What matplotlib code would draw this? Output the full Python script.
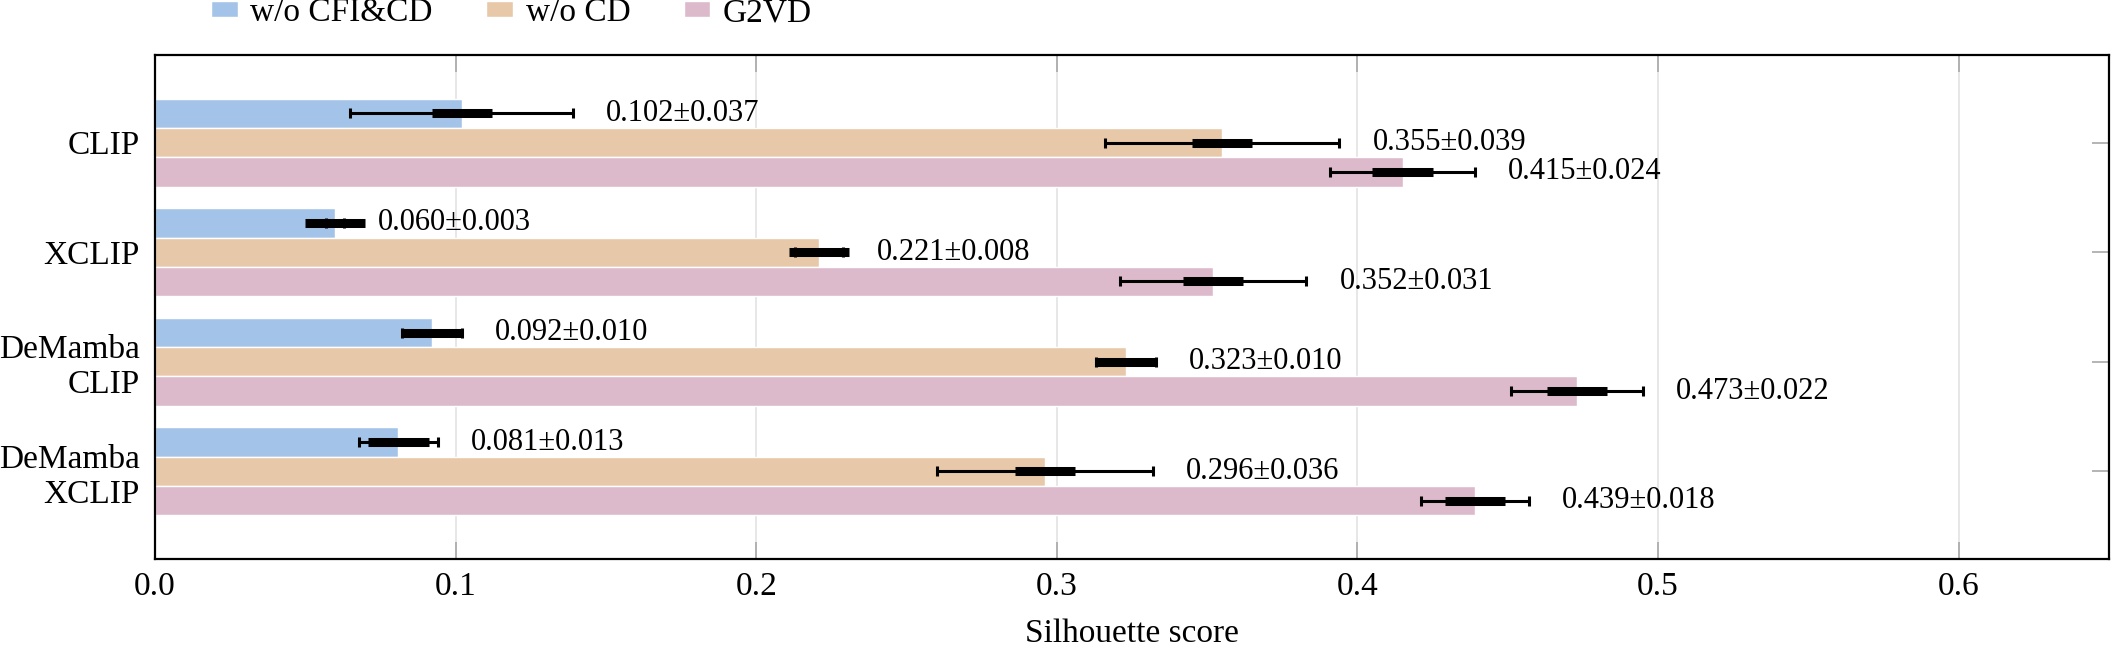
import matplotlib
matplotlib.use("Agg")
import matplotlib.pyplot as plt
import numpy as np

plt.rcParams['font.family'] = ['Liberation Serif', 'DejaVu Serif']
plt.rcParams['mathtext.fontset'] = 'stix'

# ---- data ----
categories = ["CLIP", "XCLIP", "DeMamba\nCLIP", "DeMamba\nXCLIP"]
series_names = ["w/o CFI&CD", "w/o CD", "G2VD"]
blue_mean = [0.102, 0.060, 0.092, 0.081]
blue_std = [0.037, 0.003, 0.010, 0.013]
orange_mean = [0.355, 0.221, 0.323, 0.296]
orange_std = [0.039, 0.008, 0.010, 0.036]
pink_mean = [0.415, 0.352, 0.473, 0.439]
pink_std = [0.024, 0.031, 0.022, 0.018]
xticks = [0.0, 0.1, 0.2, 0.3, 0.4, 0.5, 0.6]
xtick_labels = ["0.0", "0.1", "0.2", "0.3", "0.4", "0.5", "0.6"]

colors = ["#A3C4E8", "#E7C8A8", "#DDBACB"]
THICK_HALF = 0.01

fig = plt.figure(figsize=(21.11, 6.49), dpi=100)
ax = fig.add_axes([155/2111, 1 - 559/649, (2109-155)/2111, (559-55)/649])

n = len(categories)
ypos = np.arange(n)[::-1].astype(float)  # CLIP at top
bh = 0.267
offsets = [bh, 0.0, -bh]
means = [blue_mean, orange_mean, pink_mean]
stds = [blue_std, orange_std, pink_std]

for k in range(3):
    y = ypos + offsets[k]
    m = np.array(means[k]); s = np.array(stds[k])
    ax.barh(y, m, height=bh, color=colors[k], edgecolor='white', linewidth=1.0,
            label=series_names[k], zorder=2)
    ax.errorbar(m, y, xerr=s, fmt='none', ecolor='black', elinewidth=2.2,
                capsize=3.5, capthick=2.2, zorder=4)
    ax.hlines(y, m - THICK_HALF, m + THICK_HALF, colors='black', linewidth=6.5, zorder=5)
    for xi, yi, si in zip(m, y, s):
        ax.text(xi + si + 0.011, yi, f"{xi:.3f}\u00b1{si:.3f}", ha='left', va='center',
                fontsize=22, zorder=6)

ax.set_xlim(0, 0.65)
ax.set_ylim(-0.8, n - 1 + 0.8)
ax.set_xticks(xticks)
ax.set_xticklabels(xtick_labels)
ax.set_yticks(ypos)
ax.set_yticklabels(categories)
ax.set_axisbelow(True)
ax.grid(axis='x', color='#e3e3e3', linewidth=1.2, zorder=0)
ax.tick_params(axis='x', direction='in', length=12, width=1.2, color='#a8a8a8',
               top=True, bottom=True, labelsize=24, pad=9)
ax.tick_params(axis='y', direction='in', length=12, width=1.2, color='#a8a8a8',
               left=True, right=True, labelsize=24, pad=11)
for sp in ax.spines.values():
    sp.set_linewidth(1.6)
    sp.set_color('black')
    sp.set_zorder(7)

ax.set_xlabel("Silhouette score", fontsize=24, labelpad=12)

handles, labels = ax.get_legend_handles_labels()
fig.legend(handles, labels, loc='center left', bbox_to_anchor=(211/2111, 1 - 13/649),
           ncol=3, frameon=False, fontsize=24, handlelength=0.8, handleheight=0.35,
           handletextpad=0.38, columnspacing=1.6, borderpad=0, borderaxespad=0)

fig.savefig("out.png", dpi=100)
